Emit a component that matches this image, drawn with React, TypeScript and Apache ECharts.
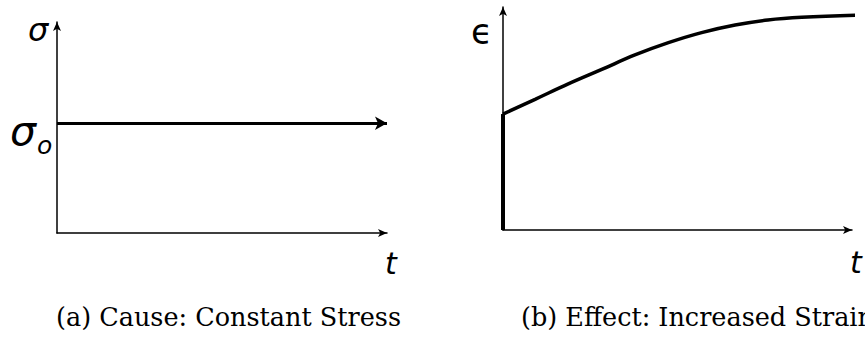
import React, { useEffect, useRef } from "react";
import * as echarts from "echarts";

// Panel (a): constant applied stress over time
const CAUSE_TIME = [0, 10];
const CAUSE_STRESS = 5.2;

// Panel (b): strain response — instantaneous jump, then creep toward a plateau
const STRAIN_JUMP_TIME = [0, 0];
const STRAIN_JUMP_VALUE = [0, 5.2];
const STRAIN_TIME = [0, 0.92, 1.87, 2.83, 3.78, 4.74, 5.69, 6.65, 7.59, 8.56, 10.37];
const STRAIN_VALUE = [5.2, 5.86, 6.55, 7.2, 7.85, 8.4, 8.85, 9.19, 9.42, 9.54, 9.64];

const CAPTIONS = ["(a) Cause: Constant Stress", "(b) Effect: Increased Strain"];

const zip = (xs: number[], ys: number[]) => xs.map((x, i) => [x, ys[i]]);

const axisStyle = {
  show: true,
  onZero: false,
  symbol: ["none", "arrow"],
  symbolSize: [6, 9],
  lineStyle: { color: "#000", width: 1.5 },
};

const bareAxis = (gridIndex: number) => ({
  type: "value" as const,
  gridIndex,
  min: 0,
  max: 10,
  axisLine: axisStyle,
  axisTick: { show: false },
  axisLabel: { show: false },
  splitLine: { show: false },
});

const mathFont = "'DejaVu Sans', sans-serif";
const captionFont = "'DejaVu Serif', serif";

export default function App() {
  const ref = useRef<HTMLDivElement>(null);

  useEffect(() => {
    if (!ref.current) return;
    const chart = echarts.init(ref.current, undefined, { renderer: "svg" });

    chart.setOption({
      animation: false,
      backgroundColor: "#fff",
      grid: [
        { left: 57, top: 22, width: 330, height: 211 },
        { left: 503, top: 7, width: 349, height: 223 },
      ],
      xAxis: [bareAxis(0), bareAxis(1)],
      yAxis: [bareAxis(0), bareAxis(1)],
      series: [
        {
          type: "line",
          xAxisIndex: 0,
          yAxisIndex: 0,
          data: [],
          markLine: {
            silent: true,
            symbol: ["none", "arrow"],
            symbolSize: [10, 12],
            label: { show: false },
            lineStyle: { color: "#000", width: 3, type: "solid" },
            data: [
              [
                { coord: [CAUSE_TIME[0], CAUSE_STRESS] },
                { coord: [CAUSE_TIME[1], CAUSE_STRESS] },
              ],
            ],
          },
        },
        {
          type: "line",
          xAxisIndex: 1,
          yAxisIndex: 1,
          data: zip(STRAIN_JUMP_TIME, STRAIN_JUMP_VALUE),
          showSymbol: false,
          lineStyle: { color: "#000", width: 4 },
        },
        {
          type: "line",
          xAxisIndex: 1,
          yAxisIndex: 1,
          data: zip(STRAIN_TIME, STRAIN_VALUE),
          smooth: 0.4,
          clip: false,
          showSymbol: false,
          lineStyle: { color: "#000", width: 3.5 },
        },
      ],
      graphic: [
        {
          type: "text",
          left: 28,
          top: 14,
          style: { text: "σ", font: `italic 32px ${mathFont}`, fill: "#000" },
        },
        {
          type: "text",
          left: 10,
          top: 110,
          style: { text: "σ", font: `italic 41px ${mathFont}`, fill: "#000" },
        },
        {
          type: "text",
          left: 37,
          top: 133,
          style: { text: "o", font: `italic 25px ${mathFont}`, fill: "#000" },
        },
        {
          type: "text",
          left: 385,
          top: 248,
          style: { text: "t", font: `italic 30px ${mathFont}`, fill: "#000" },
        },
        {
          type: "text",
          left: 471,
          top: 14,
          style: { text: "ϵ", font: `35px ${mathFont}`, fill: "#000" },
        },
        {
          type: "text",
          left: 850,
          top: 247,
          style: { text: "t", font: `italic 30px ${mathFont}`, fill: "#000" },
        },
        {
          type: "text",
          left: 56,
          top: 304,
          style: { text: CAPTIONS[0], font: `25.5px ${captionFont}`, fill: "#000" },
        },
        {
          type: "text",
          left: 521,
          top: 304,
          style: { text: CAPTIONS[1], font: `25.5px ${captionFont}`, fill: "#000" },
        },
      ],
    });

    return () => chart.dispose();
  }, []);

  return (
    <div
      ref={ref}
      style={{ position: "fixed", left: 0, top: 0, width: 865, height: 337, background: "#fff" }}
    />
  );
}
